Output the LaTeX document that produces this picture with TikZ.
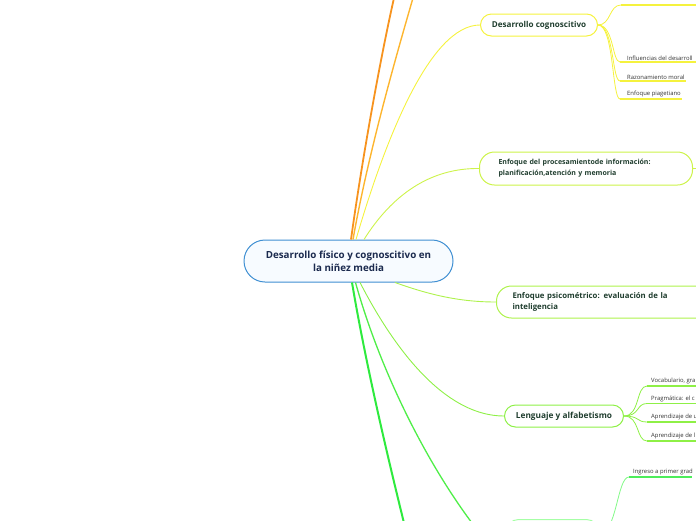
\documentclass[tikz,border=0pt]{standalone}
\usepackage{fontspec}
\setmainfont{Open Sans}
\definecolor{cblue}{HTML}{3F8FD2}
\definecolor{cfill}{HTML}{F7FBFF}
\definecolor{navy}{HTML}{1B2A4E}
\definecolor{dkgreen}{HTML}{1F3D2E}
\definecolor{corange}{HTML}{F7931E}
\definecolor{camber}{HTML}{FDB52E}
\definecolor{cyellow}{HTML}{F5F23E}
\definecolor{cyg}{HTML}{CDF34A}
\definecolor{cpsi}{HTML}{AEF24C}
\definecolor{clen}{HTML}{8EF046}
\definecolor{cbot}{HTML}{A6FFA6}
\definecolor{cthick}{HTML}{2EEA3E}
\definecolor{cmed}{HTML}{4FEE48}
\definecolor{ctext}{HTML}{333333}
\tikzset{
  topic/.style={draw, line width=1pt, rounded corners=11pt, minimum height=22pt, inner xsep=10pt, font=\bfseries\fontsize{8.1}{10}\selectfont, text=dkgreen},
  leaf/.style={anchor=south west, inner xsep=0pt, inner ysep=1.5pt, font=\fontsize{5.9}{7}\selectfont, text=ctext},
  link/.style={line width=0.9pt},
}
\begin{document}
\begin{tikzpicture}[x=1pt,y=-1pt]
\useasboundingbox (0,0) rectangle (696,520);
\clip (0,0) rectangle (696,520);
% central
\node[draw=cblue, fill=cfill, line width=1pt, rounded corners=21pt, minimum width=209pt, minimum height=42pt, align=center, font=\bfseries\fontsize{9.8}{13}\selectfont, text=navy] (c) at (348.5,261) {Desarrollo físico y cognoscitivo en\\la niñez media};
% topics
\node[topic, draw=cyellow, minimum width=117pt, anchor=west] (dc) at (480,25) {Desarrollo cognoscitivo};
\node[topic, draw=cyg, minimum width=213pt, minimum height=33pt, rounded corners=15pt, anchor=west, align=left, text width=175pt, inner xsep=19pt, font=\bfseries\fontsize{7}{11}\selectfont] (ep) at (479,168.5) {Enfoque del procesamientode información:\\planificación,atención y memoria};
\node[topic, draw=cpsi, minimum width=230pt, minimum height=32pt, rounded corners=15pt, anchor=west, align=left, text width=200pt, inner xsep=16pt, font=\bfseries\fontsize{7.8}{11}\selectfont] (ps) at (496,302) {Enfoque psicométrico: evaluación de la\\inteligencia};
\node[topic, draw=clen, minimum width=119pt, anchor=west, font=\bfseries\fontsize{8.3}{10}\selectfont] (lg) at (504,416) {Lenguaje y alfabetismo};
\node[draw=cbot, line width=1pt, rounded corners=12pt, minimum width=92pt, minimum height=30pt, anchor=north west] (bt) at (506,519) {};
% coordinates
\coordinate (o1) at (394,-2);
\coordinate (o2) at (413,-2);
\coordinate (g1) at (404,523);
\coordinate (g2) at (472,523);
% main connectors
\draw[corange, line width=1.8pt] ([xshift=2.5pt]c.north) .. controls (362,160) and (380,60) .. (o1);
\draw[camber, line width=1.4pt] ([xshift=4.5pt]c.north) .. controls (367,160) and (392,70) .. (o2);
\draw[cyellow, link] ([xshift=7.5pt]c.north) .. controls (385,140) and (430,25) .. (dc.west);
\draw[cyg, link] ([xshift=15.5pt]c.north) .. controls (392,195) and (430,168) .. (ep.west);
\draw[cpsi, link] ([xshift=46.5pt]c.south) .. controls (430,295) and (460,302) .. (ps.west);
\draw[clen, link] ([xshift=11.5pt]c.south) .. controls (400,360) and (450,416) .. (lg.west);
\draw[cmed, line width=1.3pt] ([xshift=7pt]c.south) .. controls (380,370) and (425,460) .. (g2);
\draw[cthick, line width=2pt] ([xshift=3.5pt]c.south) .. controls (365,360) and (386,450) .. (g1);
% Desarrollo cognoscitivo branches
\coordinate (d0) at (621,5);
\coordinate (d0e) at (700,5);
\draw[cyellow, line width=0.8pt] (dc.east) .. controls (611,25) and (609,5) .. (d0);
\draw[cyellow, line width=1.4pt] (d0) -- (d0e);
\node[leaf] (l1) at (627,62) {Influencias del desarroll};
\node[leaf] (l2) at (627,81) {Razonamiento moral};
\node[leaf] (l3) at (627,99) {Enfoque piagetiano};
\coordinate (b1) at (620,62);
\coordinate (b2) at (620,81);
\coordinate (b3) at (620,99);
\draw[cyellow, line width=0.8pt] (dc.east) .. controls (614,25) and (612,62) .. (b1);
\draw[cyellow, line width=0.8pt] (dc.east) .. controls (614,25) and (612,81) .. (b2);
\draw[cyellow, line width=0.8pt] (dc.east) .. controls (614,25) and (612,99) .. (b3);
\draw[cyellow, line width=1.4pt] (b1) -- (l1.south east) -- ++(5,0);
\draw[cyellow, line width=1.4pt] (b2) -- (l2.south east) -- ++(1,0);
\draw[cyellow, line width=1.4pt] (b3) -- (l3.south east) -- ++(1,0);
% procesamiento stub
\coordinate (pe) at (700,168.5);
\draw[cyg, line width=0.8pt] (ep.east) -- (pe);
% Lenguaje branches
\node[leaf] (v1) at (651,386) {Vocabulario, gra};
\node[leaf] (v2) at (651,403.5) {Pragmática: el c};
\node[leaf] (v3) at (651,422) {Aprendizaje de u};
\node[leaf] (v4) at (651,441) {Aprendizaje de l};
\foreach \v in {v1,v2,v3,v4}{
  \draw[clen, line width=0.8pt] (lg.east) .. controls (640,416) and (636,416 |- \v.south west) .. ([xshift=-4pt]\v.south west);
  \draw[clen, line width=1.4pt] ([xshift=-4pt]\v.south west) -- ++(60,0);
}
% bottom branch
\node[leaf] (ig) at (633,477) {Ingreso a primer grad};
\draw[cbot!70!cthick, line width=0.8pt] (bt.east) .. controls (617,534) and (617,477) .. ([xshift=-4pt]ig.south west);
\draw[cthick!85!white, line width=1.8pt] ([xshift=-4pt]ig.south west) -- ++(63,0);
\end{tikzpicture}
\end{document}
